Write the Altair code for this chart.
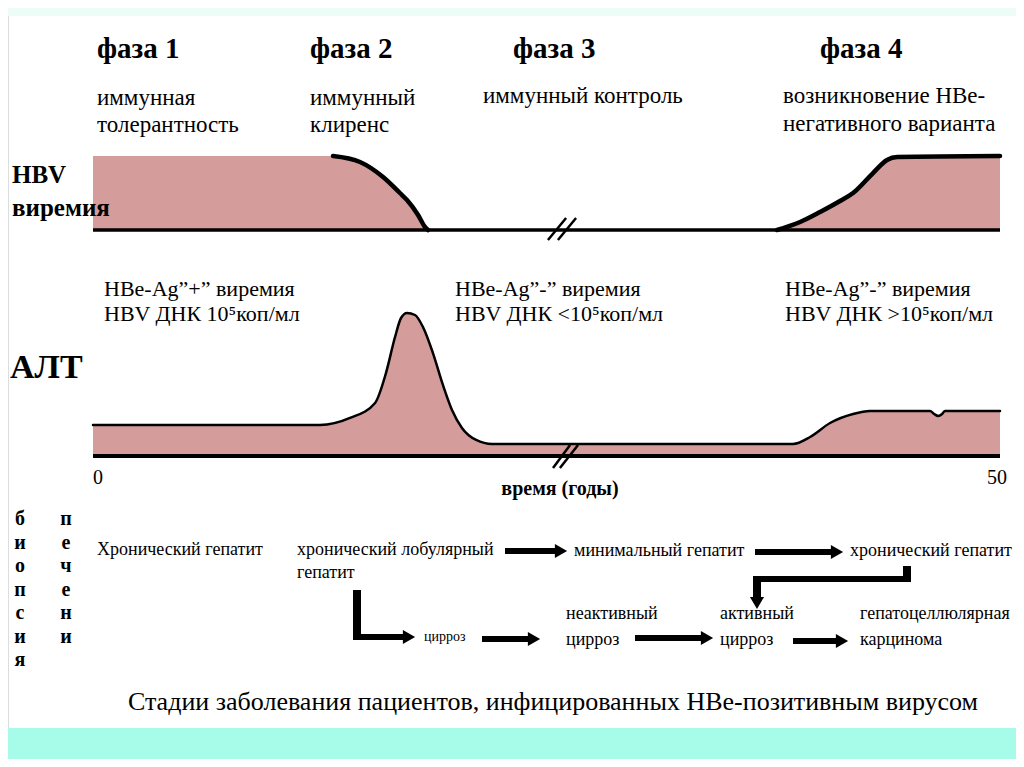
import altair as alt
import pandas as pd

OX, OY = 8, 8            # page margin: reference pixel -> chart pixel
W, H = 1008, 751
FILL = "#d49d9c"
FONT = "Liberation Serif"

# ---------------- data ----------------
# time axis: years 0..50 ; levels: arbitrary 0..100
hbv1_years = [0, 13.23, 14.72, 15.99, 16.92, 17.31, 17.92, 18.30, 18.47]
hbv1_level = [100, 100, 91.9, 71.6, 50, 40.5, 20.3, 4.1, 0]
hbv4_years = [37.71, 38.98, 40.08, 41.18, 41.90, 43.00, 43.77, 44.33, 50]
hbv4_level = [0, 10.8, 24.3, 39.2, 50, 77, 94.6, 98.6, 100]

alat_years = [0, 12.51, 14.17, 15.55, 16.15, 16.65, 16.98, 17.31, 17.75, 18.19, 18.74,
              19.29, 19.79, 20.34, 21.12, 22.00, 22.99, 38.59, 39.53, 40.63, 41.90,
              42.84, 46.14, 46.37, 46.59, 46.81, 46.97, 50]
alat_level = [21.7, 21.7, 26.6, 37.1, 58.0, 83.2, 96.5, 100, 98.6, 90.2, 72.0,
              49.7, 32.2, 19.6, 11.2, 8.4, 8.4, 8.4, 13.3, 23.1, 29.4,
              31.5, 31.5, 29.4, 28.0, 29.4, 31.5, 31.5]

time_ticks = ["0", "50"]
phases = ["фаза 1", "фаза 2", "фаза 3", "фаза 4"]
phase_desc = ["иммунная", "толерантность", "иммунный", "клиренс", "иммунный контроль",
              "возникновение НВе-", "негативного варианта"]
serology = ["HBe-Ag”+” виремия", "HBe-Ag”-” виремия", "HBe-Ag”-” виремия"]
dna = ["HBV ДНК 10⁵коп/мл", "HBV ДНК <10⁵коп/мл", "HBV ДНК >10⁵коп/мл"]
biopsy_col1 = list("биопсия")
biopsy_col2 = list("печени")
stages = ["Хронический гепатит", "хронический лобулярный", "гепатит", "минимальный гепатит",
          "хронический гепатит", "неактивный", "цирроз", "активный", "цирроз",
          "гепатоцеллюлярная", "карцинома"]
caption = "Стадии заболевания пациентов, инфицированных НВе-позитивным вирусом"

# ---------------- scales ----------------
xs = alt.Scale(domain=[0, 50], range=[93 - OX, 1000 - OX], nice=False)
hbv_ys = alt.Scale(domain=[0, 100], range=[230 - OY, 156 - OY], nice=False)
alat_ys = alt.Scale(domain=[0, 100], range=[456 - OY, 313 - OY], nice=False)


def curve_df(xv, yv):
    return pd.DataFrame({"yr": xv, "lvl": yv})


def area(df, ys):
    return alt.Chart(df).mark_area(color=FILL, interpolate="monotone").encode(
        x=alt.X("yr:Q", scale=xs, axis=None), y=alt.Y("lvl:Q", scale=ys, axis=None))


def line(df, ys, w):
    return alt.Chart(df).mark_line(color="black", strokeWidth=w, interpolate="monotone",
                                   strokeCap="round").encode(
        x=alt.X("yr:Q", scale=xs, axis=None), y=alt.Y("lvl:Q", scale=ys, axis=None))


def segs(df, ys, w):
    return alt.Chart(df).mark_rule(color="black", strokeWidth=w).encode(
        x=alt.X("a:Q", scale=xs, axis=None), x2="b:Q",
        y=alt.Y("c:Q", scale=ys, axis=None), y2="d:Q")


def texts(labels, pos, size, bold=False, align="left"):
    df = pd.DataFrame({"label": labels, "px": [p[0] - OX for p in pos], "py": [p[1] - OY for p in pos]})
    kw = dict(font=FONT, fontSize=size, align=align, baseline="middle")
    if bold:
        kw["fontWeight"] = "bold"
    return alt.Chart(df).mark_text(**kw).encode(
        x=alt.X("px:Q", scale=None, axis=None), y=alt.Y("py:Q", scale=None, axis=None),
        text="label:N")


def pix_rules(rows, w):
    df = pd.DataFrame(rows, columns=["qx", "qx2", "qy", "qy2"])
    for c in ["qx", "qx2"]:
        df[c] -= OX
    for c in ["qy", "qy2"]:
        df[c] -= OY
    return alt.Chart(df).mark_rule(color="black", strokeCap="butt", strokeWidth=w).encode(
        x=alt.X("qx:Q", scale=None, axis=None), x2="qx2:Q",
        y=alt.Y("qy:Q", scale=None, axis=None), y2="qy2:Q")


def heads(rows, shape):
    df = pd.DataFrame(rows, columns=["hx", "hy"])
    df["hx"] -= OX
    df["hy"] -= OY
    return alt.Chart(df).mark_point(shape=shape, filled=True, color="black", opacity=1,
                                    size=200).encode(
        x=alt.X("hx:Q", scale=None, axis=None), y=alt.Y("hy:Q", scale=None, axis=None))


def band(y0, y1, colour):
    df = pd.DataFrame({"bx": [0], "bx2": [W], "by": [y0], "by2": [y1]})
    return alt.Chart(df).mark_rect(color=colour).encode(
        x=alt.X("bx:Q", scale=None, axis=None), x2="bx2:Q",
        y=alt.Y("by:Q", scale=None, axis=None), y2="by2:Q")


hbv1 = curve_df(hbv1_years, hbv1_level)
hbv1_edge = hbv1[hbv1["yr"] >= 13.2]
hbv4 = curve_df(hbv4_years, hbv4_level)
alat = curve_df(alat_years, alat_level)

base_df = pd.DataFrame({"a": [0], "b": [50], "c": [0], "d": [0]})
hbv_break = pd.DataFrame({"a": [25.08, 25.63], "b": [26.08, 26.63], "c": [-13.5, -13.5], "d": [16.2, 16.2]})
alat_break = pd.DataFrame({"a": [25.36, 25.74], "b": [26.30, 26.74], "c": [-8.4, -8.4], "d": [7.7, 7.7]})

layers = [
    band(0, 16 - OY, "#ecfdf8"), band(728 - OY, H, "#a6fce8"),
    area(hbv1, hbv_ys), area(hbv4, hbv_ys),
    line(hbv1_edge, hbv_ys, 4.5), line(hbv4, hbv_ys, 4.5),
    segs(base_df, hbv_ys, 3.5), segs(hbv_break, hbv_ys, 2.5),
    area(alat, alat_ys), line(alat, alat_ys, 2.5),
    segs(base_df, alat_ys, 4), segs(alat_break, alat_ys, 2.5),
    texts(phases, [(97, 49), (310, 49), (513, 49), (820, 49)], 29, True),
    texts(phase_desc, [(97, 98), (97, 125), (310, 98), (310, 125), (483, 96), (783, 96), (783, 124)], 23),
    texts(["HBV", "виремия"], [(12, 175), (12, 208)], 25, True),
    texts(["АЛТ"], [(10, 368)], 34, True),
    texts(serology, [(104, 289), (455, 289), (785, 289)], 22),
    texts(dna, [(104, 314), (455, 314), (785, 314)], 22),
    texts(time_ticks, [(93, 478), (987, 478)], 20),
    texts(["время (годы)"], [(560, 489)], 20, True, "center"),
    texts(biopsy_col1, [(20, 519 + 23.5 * i) for i in range(7)], 20, True, "center"),
    texts(biopsy_col2, [(66, 519 + 23.5 * i) for i in range(6)], 20, True, "center"),
    texts(stages, [(97, 550), (297, 550), (297, 573), (574, 551), (850, 551), (566, 614), (566, 640),
                   (720, 614), (720, 640), (860, 614), (860, 640)], 18),
    texts(["цирроз"], [(424, 637)], 14),
    texts([caption], [(553, 702)], 26, False, "center"),
    pix_rules([
        (505, 556, 551, 551), (755, 832, 552, 552), (482, 529, 639, 639),
        (635, 702, 638, 638), (793, 837, 641, 641),
        (353, 405, 637, 637), (911, 753, 579, 579),
    ], 6),
    pix_rules([(357, 357, 590, 640), (907, 907, 566, 582), (757, 757, 576, 598)], 8),
    heads([(561, 551), (837, 552), (534, 639), (707, 638), (842, 641), (409, 637)], "triangle-right"),
    heads([(757, 603)], "triangle-down"),
]

chart = alt.layer(*layers).resolve_scale(x="independent", y="independent").properties(
    width=W, height=H, padding=0, autosize="none", background="white"
).configure_view(stroke=None).configure(font=FONT)

chart.save("out.html", embed_options={"renderer": "svg", "actions": False})
